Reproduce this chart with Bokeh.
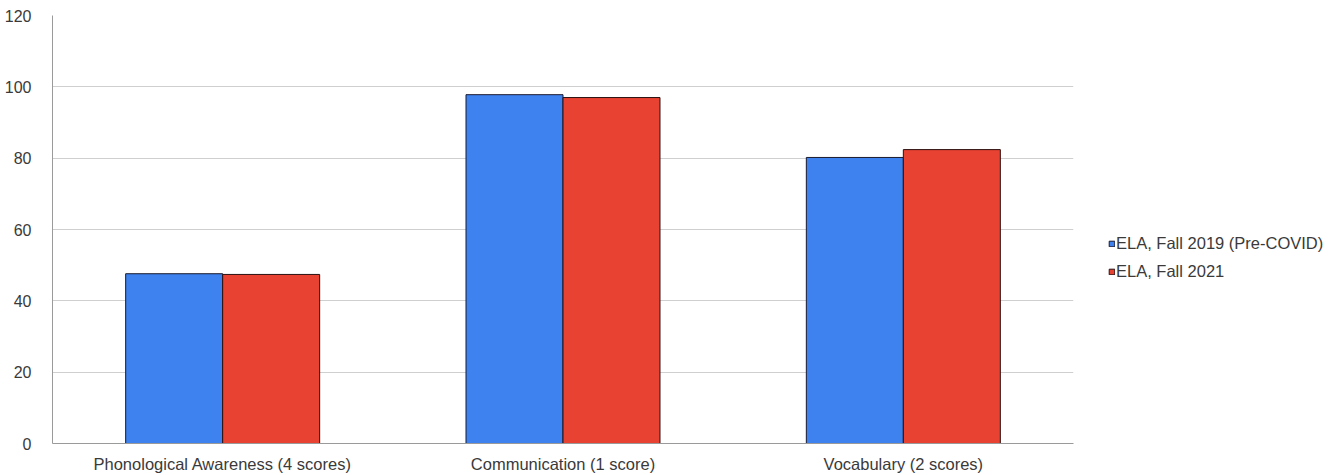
from bokeh.plotting import figure
from bokeh.models import ColumnDataSource, FactorRange, Range1d, Legend, LegendItem, FixedTicker
from bokeh.transform import dodge
from bokeh.embed import file_html
from bokeh.resources import INLINE

categories = ["Phonological Awareness (4 scores)", "Communication (1 score)", "Vocabulary (2 scores)"]
fall_2019 = [47.6, 97.8, 80.2]
fall_2021 = [47.4, 97.0, 82.4]
series_names = ["ELA, Fall 2019 (Pre-COVID)", "ELA, Fall 2021"]
y_ticks = [0, 20, 40, 60, 80, 100, 120]

src = ColumnDataSource(data=dict(cat=categories, a=fall_2019, b=fall_2021))

p = figure(frame_width=1021, frame_height=428, x_range=FactorRange(*categories, range_padding=0),
           y_range=Range1d(0, 120), output_backend="svg", toolbar_location=None,
           min_border_left=52, min_border_right=0, min_border_top=15, min_border_bottom=32)
p.outline_line_color = None
p.background_fill_color = "white"
p.border_fill_color = "white"

r1 = p.vbar(x=dodge("cat", -0.1425, range=p.x_range), top="a", width=0.285, source=src,
            fill_color="#3d82ee", line_color="#1a1a2e", line_width=1)
r2 = p.vbar(x=dodge("cat", 0.1425, range=p.x_range), top="b", width=0.285, source=src,
            fill_color="#e84232", line_color="#2a1010", line_width=1)

p.yaxis.ticker = FixedTicker(ticks=y_ticks)
p.xgrid.grid_line_color = None
p.ygrid.grid_line_color = "#cfcfcf"
for ax in (p.xaxis[0], p.yaxis[0]):
    ax.major_tick_line_color = None
    ax.minor_tick_line_color = None
    ax.axis_line_color = "#9a9a9a"
    ax.major_label_text_font = "Liberation Sans"
    ax.major_label_text_color = "#3a3a3a"
p.yaxis.major_label_text_font_size = "16px"
p.xaxis.major_label_text_font_size = "16.5px"
p.yaxis.major_label_standoff = 15
p.xaxis.major_label_standoff = 5

legend = Legend(items=[LegendItem(label=series_names[0], renderers=[r1]),
                       LegendItem(label=series_names[1], renderers=[r2])],
                location=(35, 162), padding=0, margin=0, spacing=9,
                glyph_width=7, glyph_height=7, label_standoff=1, label_height=16,
                border_line_color=None, background_fill_alpha=0,
                label_text_font="Liberation Sans", label_text_font_size="16.5px",
                label_text_color="#3a3a3a")
p.add_layout(legend, "right")

open("out.html", "w").write(file_html(p, INLINE))
